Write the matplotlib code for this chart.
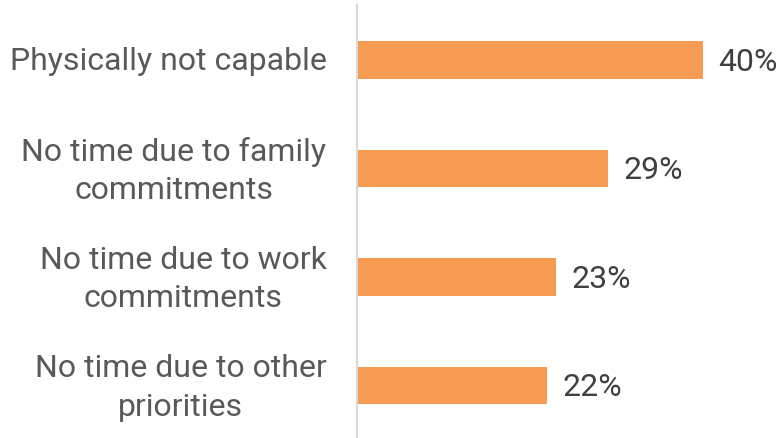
import matplotlib
matplotlib.use("Agg")
import matplotlib.pyplot as plt
from matplotlib.transforms import ScaledTranslation

categories = ["Physically not capable",
              "No time due to family\ncommitments",
              "No time due to work\ncommitments",
              "No time due to other\npriorities"]
values = [40, 29, 23, 22]

plt.rcParams['font.family'] = ['Roboto', 'DejaVu Sans']

fig = plt.figure(figsize=(7.8, 4.38), dpi=100)
ax = fig.add_axes([357/780, 0, 1 - 357/780, (438-5)/438])

pos = list(range(len(values)))
bars = ax.barh(pos, values, height=0.35, color="#F59B52")
for p, v in zip(pos, values):
    ax.text(v + 1.8, p + 0.02, f"{v}%", va='center', ha='left', fontsize=23, color="#404040")

ax.set_xlim(0, 48.9)
ax.set_ylim(3.484, -0.507)
ax.set_yticks(pos)
ax.set_yticklabels(categories, fontsize=23, color="#595959", ha='right',
                   multialignment='center', linespacing=1.4)
ax.tick_params(axis='y', length=0, pad=22)
ax.set_xticks([])

# nudge category labels up a few pixels (more for two-line ones)
for lbl, cat in zip(ax.get_yticklabels(), categories):
    dy = 5 if "\n" in cat else 1.5
    lbl.set_transform(lbl.get_transform() + ScaledTranslation(0, dy/100, fig.dpi_scale_trans))

for s in ['top', 'right', 'bottom']:
    ax.spines[s].set_visible(False)
ax.spines['left'].set_color("#D9D9D9")
ax.spines['left'].set_linewidth(1.5)

fig.savefig("out.png", dpi=100)
